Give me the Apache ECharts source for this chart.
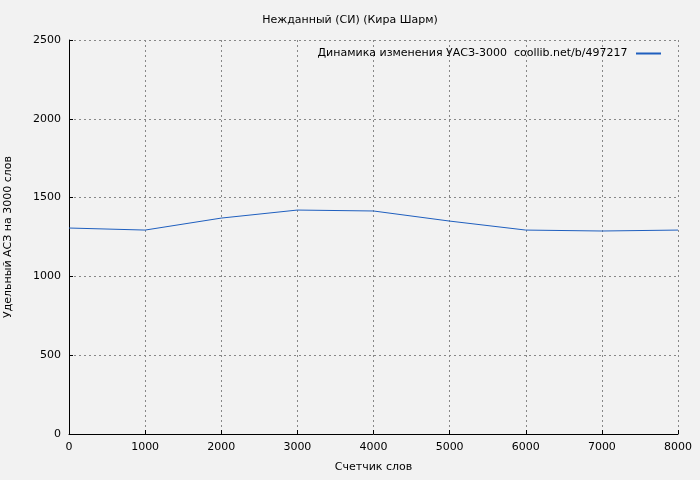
<!DOCTYPE html>
<html>
<head>
<meta charset="UTF-8">
<script src="https://cdn.jsdelivr.net/npm/echarts@6/dist/echarts.min.js"></script>
<style>
    html, body { margin: 0; padding: 0; background: #f2f2f2; }
    #chart { width: 700px; height: 480px; }
</style>
</head>
<body>
<div id="chart"></div>
<script>
    var words = [0, 1000, 2000, 3000, 4000, 5000, 6000, 7000, 8000];
    var values = [1307, 1294, 1370, 1421, 1415, 1351, 1294, 1288, 1294];
    var seriesName = 'Динамика изменения УАСЗ-3000  coollib.net/b/497217';

    var chart = echarts.init(document.getElementById('chart'));
    var font = 'DejaVu Sans';
    var grid = { type: [2, 3], color: '#888' };
    var plain = function (v) { return String(v); };

    chart.setOption({
        backgroundColor: '#f2f2f2',
        animation: false,
        title: {
            text: 'Нежданный (СИ) (Кира Шарм)',
            left: 'center', top: 10,
            textStyle: { fontFamily: font, fontSize: 11, fontWeight: 'normal', color: '#000' }
        },
        legend: {
            right: 34, top: 43,
            icon: 'path://M0,0L1,0L1,0.08L0,0.08Z',
            itemWidth: 32, itemHeight: 2,
            align: 'right',
            textStyle: { fontFamily: font, fontSize: 11, color: '#000' },
            data: [seriesName]
        },
        grid: { left: 69, right: 22, top: 40, bottom: 46, containLabel: false, outerBoundsMode: 'none' },
        xAxis: {
            type: 'value', min: 0, max: 8000, interval: 1000,
            name: 'Счетчик слов', nameLocation: 'middle', nameGap: 28,
            nameTextStyle: { fontFamily: font, fontSize: 11, color: '#000' },
            axisLine: { lineStyle: { color: '#000' } },
            axisTick: { inside: true, length: 4, lineStyle: { color: '#000' } },
            axisLabel: { fontFamily: font, fontSize: 11, color: '#000', formatter: plain },
            splitLine: { lineStyle: grid }
        },
        yAxis: {
            type: 'value', min: 0, max: 2500, interval: 500,
            name: 'Удельный АСЗ на 3000 слов', nameLocation: 'middle', nameGap: 55,
            nameTextStyle: { fontFamily: font, fontSize: 11, color: '#000' },
            axisLine: { show: true, lineStyle: { color: '#000' } },
            axisTick: { show: true, inside: true, length: 4, lineStyle: { color: '#000' } },
            axisLabel: { fontFamily: font, fontSize: 11, color: '#000', formatter: plain },
            splitLine: { lineStyle: grid }
        },
        series: [{
            name: seriesName,
            type: 'line',
            data: words.map(function (w, i) { return [w, values[i]]; }),
            showSymbol: false,
            lineStyle: { color: '#1f5fbf', width: 1 },
            itemStyle: { color: '#1f5fbf' }
        }]
    });
</script>
</body>
</html>
